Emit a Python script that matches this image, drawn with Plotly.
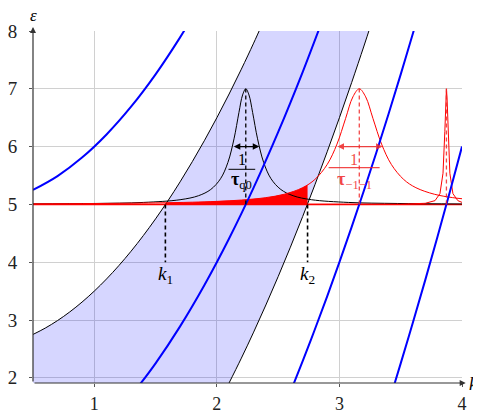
import plotly.graph_objects as go

# dispersion branches (blue)
k_blue_a = [0.5, 0.7, 0.9, 1.1, 1.3, 1.5, 1.7, 1.76]
e_blue_a = [5.25, 5.49, 5.81, 6.21, 6.69, 7.25, 7.89, 8.10]
k_blue_b = [1.37, 1.5, 1.7, 1.9, 2.1, 2.3, 2.5, 2.7, 2.86]
e_blue_b = [1.88, 2.25, 2.89, 3.61, 4.41, 5.29, 6.25, 7.29, 8.18]
k_blue_c = [2.62, 2.7, 2.8, 2.9, 3.0, 3.1, 3.2, 3.3, 3.4, 3.5, 3.6, 3.66]
e_blue_c = [1.86, 2.29, 2.84, 3.41, 4.0, 4.61, 5.24, 5.89, 6.56, 7.25, 7.96, 8.40]
k_blue_d = [3.44, 3.5, 3.6, 3.7, 3.8, 3.9, 4.0]
e_blue_d = [1.83, 2.25, 2.96, 3.69, 4.44, 5.21, 6.0]

# shaded band edges (black)
k_band_lo = [0.5, 0.6, 0.7, 0.8, 0.9, 1.0, 1.1, 1.2, 1.3, 1.4, 1.5, 1.6, 1.7, 1.8, 1.9, 2.0, 2.1, 2.2, 2.3, 2.37]
e_band_lo = [2.75, 2.86, 2.99, 3.14, 3.31, 3.5, 3.71, 3.94, 4.19, 4.46, 4.75, 5.06, 5.39, 5.74, 6.11, 6.5, 6.91, 7.34, 7.79, 8.12]
k_band_hi = [2.09, 2.2, 2.3, 2.4, 2.5, 2.6, 2.7, 2.8, 2.9, 3.0, 3.1, 3.2, 3.26]
e_band_hi = [1.87, 2.34, 2.79, 3.26, 3.75, 4.26, 4.79, 5.34, 5.91, 6.5, 7.11, 7.74, 8.13]

# broadened peaks
k_peak_q0 = [0.5, 1.0, 1.4, 1.7, 1.85, 1.95, 2.03, 2.09, 2.14, 2.18, 2.21, 2.236, 2.262, 2.292,
             2.332, 2.382, 2.442, 2.522, 2.622, 2.772, 3.072, 3.472, 4.0]
e_peak_q0 = [5.008, 5.016, 5.034, 5.081, 5.150, 5.258, 5.444, 5.725, 6.135, 6.588, 6.894, 7.0, 6.894, 6.588,
             6.135, 5.725, 5.444, 5.258, 5.150, 5.081, 5.034, 5.016, 5.008]
k_peak_m1 = [0.5, 1.0, 1.5, 1.8, 2.0, 2.2, 2.4, 2.55, 2.7, 2.8, 2.9, 2.98, 3.05, 3.11, 3.162, 3.214,
             3.274, 3.344, 3.424, 3.524, 3.624, 3.774, 3.924, 4.0]
e_peak_m1 = [5.010, 5.015, 5.026, 5.038, 5.052, 5.075, 5.117, 5.176, 5.289, 5.432, 5.690, 6.043, 6.484, 6.861, 7.0, 6.861,
             6.484, 6.043, 5.690, 5.432, 5.289, 5.176, 5.117, 5.098]
k_peak_m2 = [0.5, 3.0, 3.5, 3.7, 3.78, 3.82, 3.845, 3.86, 3.868, 3.873, 3.878, 3.886, 3.901, 3.926, 3.966, 4.0]
e_peak_m2 = [5.0, 5.001, 5.004, 5.019, 5.065, 5.186, 5.539, 6.262, 6.841, 7.0, 6.841, 6.262, 5.539, 5.186, 5.065, 5.035]

# red area under the tail between k1 and k2
k_fill = [1.58, 1.8, 2.0, 2.2, 2.4, 2.55, 2.65, 2.74]
e_fill = [5.028, 5.038, 5.052, 5.075, 5.117, 5.176, 5.242, 5.336]

k1, k2 = 1.58, 2.74
peak_k = [2.236, 3.162, 3.873]
width_q0 = [2.126, 2.346]
width_m1 = [2.972, 3.352]

x_ticks = [1, 2, 3, 4]
y_ticks = [2, 3, 4, 5, 6, 7, 8]
xmin, xmax = 0.5, 4.0
ymin, ymax = 1.91, 8.0

serif = "Liberation Serif, DejaVu Serif, serif"
red_soft = "rgba(240,40,40,0.85)"

fig = go.Figure()

# band
band_x = [0.5] + k_band_lo + k_band_hi[::-1] + [0.5]
band_y = [1.8] + e_band_lo + e_band_hi[::-1] + [1.8]
fig.add_trace(go.Scatter(x=band_x, y=band_y, fill="toself", fillcolor="rgba(0,0,255,0.16)",
                         line=dict(width=0), mode="lines", hoverinfo="skip"))

# red fill
fig.add_trace(go.Scatter(x=[k_fill[0]] + k_fill + [k_fill[-1]], y=[5.0] + e_fill + [5.0],
                         fill="toself", fillcolor="red", line=dict(width=0), mode="lines"))

for kk, ee in [(k_band_lo, e_band_lo), (k_band_hi, e_band_hi)]:
    fig.add_trace(go.Scatter(x=kk, y=ee, mode="lines", line=dict(color="black", width=1, shape="spline")))

fig.add_trace(go.Scatter(x=[xmin, xmax], y=[5.0, 5.0], mode="lines", line=dict(color="red", width=1.5)))

fig.add_trace(go.Scatter(x=k_peak_q0, y=e_peak_q0, mode="lines", line=dict(color="black", width=1, shape="spline")))
fig.add_trace(go.Scatter(x=k_peak_m1, y=e_peak_m1, mode="lines", line=dict(color="red", width=1, shape="spline")))
fig.add_trace(go.Scatter(x=k_peak_m2, y=e_peak_m2, mode="lines", line=dict(color="red", width=1)))

for kk, ee in [(k_blue_a, e_blue_a), (k_blue_b, e_blue_b), (k_blue_c, e_blue_c), (k_blue_d, e_blue_d)]:
    fig.add_trace(go.Scatter(x=kk, y=ee, mode="lines", line=dict(color="blue", width=2, shape="spline")))

# dashed guides
fig.add_trace(go.Scatter(x=[peak_k[0]] * 2, y=[5, 7], mode="lines", line=dict(color="black", width=1.3, dash="4px,3px")))
for pk in peak_k[1:]:
    fig.add_trace(go.Scatter(x=[pk] * 2, y=[5, 7], mode="lines", line=dict(color=red_soft, width=1.3, dash="4px,3px")))
for kx in [k1, k2]:
    fig.add_trace(go.Scatter(x=[kx] * 2, y=[5, 4], mode="lines", line=dict(color="black", width=1.6, dash="4px,3px")))

ann = []
# width arrows
ann.append(dict(x=width_q0[1], y=6, ax=width_q0[0], ay=6, xref="x", yref="y", axref="x", ayref="y",
                showarrow=True, arrowside="end+start", arrowhead=2, arrowsize=1, arrowwidth=1.3,
                arrowcolor="black", text=""))
ann.append(dict(x=width_m1[1], y=6, ax=width_m1[0], ay=6, xref="x", yref="y", axref="x", ayref="y",
                showarrow=True, arrowside="end+start", arrowhead=2, arrowsize=1, arrowwidth=1.3,
                arrowcolor=red_soft, text=""))
# fractions
ann.append(dict(x=2.204, y=5.78, text="1", showarrow=False, font=dict(family=serif, size=16, color="black")))
ann.append(dict(x=2.204, y=5.42, text="<b>τ</b><sub>q0</sub>", showarrow=False,
                font=dict(family=serif, size=18, color="black")))
ann.append(dict(x=3.116, y=5.78, text="1", showarrow=False, font=dict(family=serif, size=16, color=red_soft)))
ann.append(dict(x=3.12, y=5.42, text="<b>τ</b><sub>−1−1</sub>", showarrow=False,
                font=dict(family=serif, size=18, color=red_soft)))
# k labels
ann.append(dict(x=k1, y=3.78, text="<i>k</i><sub>1</sub>", showarrow=False,
                font=dict(family=serif, size=19, color="black")))
ann.append(dict(x=k2, y=3.78, text="<i>k</i><sub>2</sub>", showarrow=False,
                font=dict(family=serif, size=19, color="black")))
# axes arrows
ann.append(dict(x=xmin, y=8.07, ax=xmin, ay=ymin, xref="x", yref="y", axref="x", ayref="y", showarrow=True,
                arrowhead=2, arrowsize=1, arrowwidth=1.2, arrowcolor="#333", text=""))
ann.append(dict(x=4.03, y=ymin, ax=xmin, ay=ymin, xref="x", yref="y", axref="x", ayref="y", showarrow=True,
                arrowhead=2, arrowsize=1, arrowwidth=1.2, arrowcolor="#333", text=""))
# axis names: anchored on the range corners (inside the range) and shifted out in pixels
ann.append(dict(x=xmin, y=ymax, xref="x", yref="y", text="<i>ε</i>", showarrow=False,
                xanchor="center", yanchor="middle", yshift=16,
                font=dict(family=serif, size=17, color="black")))
ann.append(dict(x=xmax, y=ymin, xref="x", yref="y", text="<i>k</i>", showarrow=False,
                xanchor="center", yanchor="middle", xshift=11, yshift=-1,
                font=dict(family=serif, size=18, color="black")))

shapes = [
    dict(type="line", xref="x", yref="y", x0=2.095, x1=2.313, y0=5.607, y1=5.607, line=dict(color="black", width=1)),
    dict(type="line", xref="x", yref="y", x0=2.912, x1=3.328, y0=5.635, y1=5.635, line=dict(color=red_soft, width=1.3)),
]

# the page body adds an 8px margin, so the figure is a bit smaller than the window
fig.update_layout(
    width=473, height=405, margin=dict(l=25, r=19, t=23, b=30, autoexpand=False),
    plot_bgcolor="white", paper_bgcolor="white", showlegend=False,
    annotations=ann, shapes=shapes,
    xaxis=dict(range=[xmin, xmax], tickvals=x_ticks, showgrid=True, gridcolor="#d0d0d0", gridwidth=1,
               zeroline=False, showline=False, ticks="outside", ticklen=3, tickcolor="#555", automargin=False,
               tickfont=dict(family=serif, size=18, color="#222"), ticklabelstandoff=1),
    yaxis=dict(range=[ymin, ymax], tickvals=y_ticks, showgrid=True, gridcolor="#d0d0d0", gridwidth=1,
               zeroline=False, showline=False, ticks="outside", ticklen=3, tickcolor="#555", automargin=False,
               tickfont=dict(family=serif, size=19, color="#222"), ticklabelstandoff=8),
)

fig.write_html("out.html")
